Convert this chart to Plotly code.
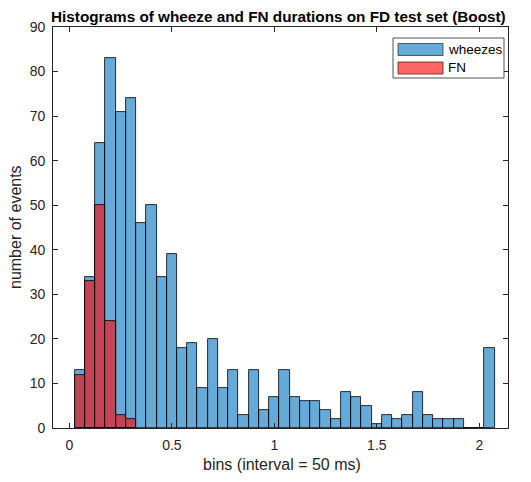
import plotly.graph_objects as go

# ---- data ----
bin_width = 0.05
bin_centers = [round(0.05 * (i + 1), 2) for i in range(41)]  # 0.05 ... 2.05
wheezes_counts = [13, 34, 64, 83, 71, 74, 46, 50, 34, 39, 18, 19, 9, 20, 9, 13, 3,
                  13, 4, 7, 13, 7, 6, 6, 4, 2, 8, 7, 5, 1, 3, 2, 3, 8, 3, 2, 2, 2,
                  0, 0, 18]
fn_centers = [0.05, 0.10, 0.15, 0.20, 0.25, 0.30]
fn_counts = [12, 33, 50, 24, 3, 2]
x_ticks = [0, 0.5, 1, 1.5, 2]
x_tick_labels = ["0", "0.5", "1", "1.5", "2"]
y_ticks = [0, 10, 20, 30, 40, 50, 60, 70, 80, 90]
series_names = ["wheezes", "FN"]
title_text = "Histograms of wheeze and FN durations on FD test set (Boost)"
x_label = "bins (interval = 50 ms)"
y_label = "number of events"

BLUE = "rgba(0,114,189,0.6)"
RED = "rgba(255,0,0,0.6)"
AX = "#262626"
FONT = "Liberation Sans, Arial, sans-serif"

fig = go.Figure()
fig.add_trace(go.Bar(x=bin_centers, y=wheezes_counts, width=[bin_width] * len(bin_centers),
                     marker=dict(color=BLUE, line=dict(color="black", width=0.8)),
                     name=series_names[0], showlegend=False))
fig.add_trace(go.Bar(x=fn_centers, y=fn_counts, width=[bin_width] * len(fn_centers),
                     marker=dict(color=RED, line=dict(color="black", width=0.8)),
                     name=series_names[1], showlegend=False))

OFF = 8  # page body margin in the browser
W, H = 531 - OFF, 482 - OFF
L, R, T, B = 53 - OFF, 23, 27 - OFF, 54
pw, ph = W - L - R, H - T - B


def px_x(px):
    return (px - OFF - L) / pw


def px_y(py):
    return (H - B - (py - OFF)) / ph


# custom MATLAB-like legend
shapes = [
    dict(type="rect", xref="paper", yref="paper", x0=px_x(393), x1=px_x(504),
         y0=px_y(78), y1=px_y(38), line=dict(color=AX, width=0.8), fillcolor="white"),
    dict(type="rect", xref="paper", yref="paper", x0=px_x(398), x1=px_x(443),
         y0=px_y(55.5), y1=px_y(43.5), line=dict(color="rgb(40,60,80)", width=0.8), fillcolor=BLUE),
    dict(type="rect", xref="paper", yref="paper", x0=px_x(398), x1=px_x(443),
         y0=px_y(74), y1=px_y(62), line=dict(color="rgb(90,30,30)", width=0.8), fillcolor=RED),
]
annotations = [
    dict(text=series_names[0], xref="paper", yref="paper", x=px_x(446), y=px_y(49.5),
         xanchor="left", yanchor="middle", showarrow=False, font=dict(size=13.5, color="black", family=FONT)),
    dict(text=series_names[1], xref="paper", yref="paper", x=px_x(446), y=px_y(68),
         xanchor="left", yanchor="middle", showarrow=False, font=dict(size=13.5, color="black", family=FONT)),
    dict(text="<b>" + title_text + "</b>", xref="paper", yref="paper", x=px_x(278), y=px_y(16),
         xanchor="center", yanchor="middle", showarrow=False, borderpad=0,
         font=dict(size=15.3, color="black", family=FONT)),
    dict(text=x_label, xref="paper", yref="paper", x=px_x(282), y=px_y(465),
         xanchor="center", yanchor="middle", showarrow=False, font=dict(size=16, color=AX, family=FONT)),
    dict(text=y_label, xref="paper", yref="paper", x=px_x(15), y=px_y(227),
         xanchor="center", yanchor="middle", textangle=-90, showarrow=False,
         font=dict(size=16, color=AX, family=FONT)),
]

fig.update_layout(
    width=W, height=H,
    margin=dict(l=L, r=R, t=T, b=B, autoexpand=False),
    paper_bgcolor="white", plot_bgcolor="white",
    barmode="overlay", bargap=0,
    font=dict(family=FONT, size=14, color=AX),
    shapes=shapes, annotations=annotations,
)
fig.update_xaxes(range=[-0.08, 2.14], tickvals=x_ticks, ticktext=x_tick_labels,
                 showline=True, mirror="ticks", linecolor=AX, linewidth=0.8,
                 ticks="inside", ticklen=5, tickcolor=AX, tickwidth=0.8,
                 showgrid=False, zeroline=False, automargin=False, ticklabelstandoff=4,
                 tickfont=dict(size=14, color=AX))
fig.update_yaxes(range=[0, 90], tickvals=y_ticks,
                 showline=True, mirror="ticks", linecolor=AX, linewidth=0.8,
                 ticks="inside", ticklen=5, tickcolor=AX, tickwidth=0.8,
                 showgrid=False, zeroline=False, automargin=False, ticklabelstandoff=4,
                 tickfont=dict(size=14, color=AX))

fig.write_html("out.html")
